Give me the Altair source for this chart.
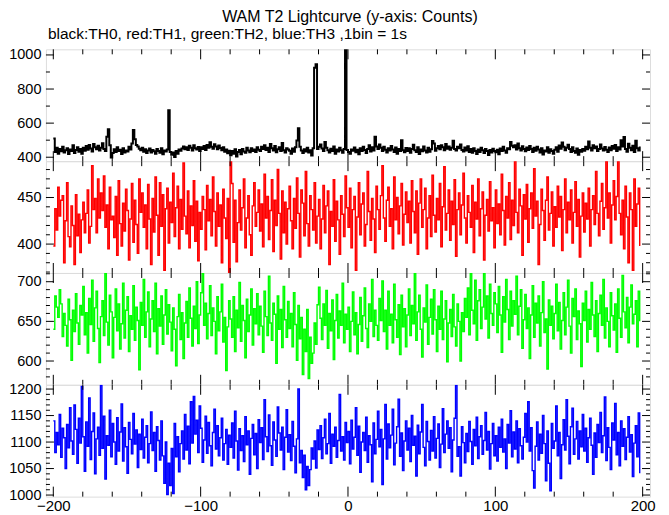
import altair as alt
import pandas as pd

X0 = -200  # first bin time (1 bin = 1 s)

th0 = [
    510, 430, 455, 420, 448, 435, 462, 428, 441, 452, 419, 446, 437, 470, 425, 443, 458, 432, 449, 421,
    456, 438, 466, 444, 472, 451, 433, 478, 459, 447, 468, 440, 455, 482, 449, 436, 520, 564, 470, 398,
    425, 447, 431, 458, 436, 444, 419, 452, 428, 440, 433, 461, 445, 480, 560, 505, 472, 463, 450, 441,
    456, 432, 447, 425, 439, 451, 428, 443, 435, 420, 448, 437, 426, 452, 418, 440, 433, 445, 676, 430,
    415, 428, 402, 436, 421, 445, 438, 451, 463, 447, 459, 442, 468, 455, 440, 471, 452, 446, 460, 437,
    458, 449, 466, 443, 472, 455, 488, 461, 450, 476, 463, 447, 469, 454, 441, 458, 432, 445, 424, 438,
    412, 436, 420, 447, 405, 431, 442, 418, 449, 433, 426, 455, 440, 429, 452, 437, 446, 431, 458, 444,
    437, 462, 448, 470, 443, 455, 431, 478, 452, 440, 466, 429, 447, 459, 436, 484, 441, 428, 453, 446,
    438, 420, 451, 432, 459, 498, 570, 462, 440, 425, 447, 433, 456, 428, 441, 410, 452, 925, 945, 448,
    462, 475, 451, 436, 489, 455, 441, 428, 450, 437, 463, 420, 446, 433, 455, 441, 427, 449, 1100, 443,
    431, 420, 446, 438, 457, 429, 444, 418, 452, 436, 461, 442, 425, 449, 471, 433, 458, 440, 520, 463,
    448, 475, 456, 437, 461, 444, 428, 453, 439, 466, 445, 431, 457, 420, 448, 436, 500, 441, 429, 454,
    437, 452, 426, 448, 473, 441, 430, 458, 419, 446, 435, 463, 440, 428, 455, 432, 447, 495, 480, 438,
    452, 466, 447, 470, 459, 441, 478, 450, 463, 444, 456, 497, 448, 439, 461, 452, 475, 443, 434, 457,
    440, 465, 431, 448, 426, 452, 437, 419, 446, 430, 455, 441, 425, 449, 436, 413, 442, 428, 450, 437,
    429, 444, 418, 451, 436, 462, 440, 427, 453, 447, 490, 468, 458, 471, 446, 480, 452, 439, 465, 448,
    435, 457, 442, 466, 449, 431, 455, 438, 461, 445, 428, 452, 416, 440, 433, 458, 426, 447, 437, 421,
    444, 458, 432, 469, 450, 487, 462, 441, 455, 473, 448, 430, 459, 437, 426, 451, 415, 443, 432, 449,
    438, 461, 447, 492, 455, 440, 470, 452, 463, 436, 448, 475, 451, 439, 460, 444, 430, 457, 441, 466,
    450, 472, 437, 459, 446, 500, 463, 518, 448, 432, 479, 455, 441, 468, 431, 497, 452, 440, 463,
]

th1 = [
    398, 438, 415, 461, 430, 447, 452, 380, 425, 466, 408, 397, 441, 420, 378, 453, 409, 432, 391, 426,
    445, 412, 433, 458, 401, 419, 484, 437, 449, 412, 470, 428, 455, 436, 473, 418, 442, 395, 461, 426,
    430, 407, 451, 388, 468, 422, 398, 444, 414, 459, 436, 383, 427, 465, 402, 447, 421, 390, 470, 434,
    455, 418, 442, 395, 464, 427, 378, 449, 413, 472, 431, 388, 466, 419, 453, 372, 438, 460, 401, 445,
    423, 476, 408, 439, 462, 395, 448, 416, 487, 430, 411, 457, 396, 441, 420, 468, 403, 446, 382, 434,
    416, 451, 437, 394, 463, 425, 448, 409, 472, 435, 398, 455, 419, 442, 380, 459, 428, 406, 449, 367,
    489, 465, 402, 447, 381, 423, 458, 415, 439, 470, 396, 428, 452, 410, 388, 441, 466, 419, 434, 458,
    414, 443, 397, 475, 428, 451, 405, 436, 469, 392, 447, 420, 480, 433, 384, 457, 412, 445, 400, 438,
    462, 425, 395, 449, 417, 471, 433, 386, 458, 444, 409, 478, 422, 398, 452, 437, 415, 466, 401, 430,
    448, 395, 427, 463, 412, 441, 457, 378, 435, 419, 469, 403, 446, 426, 389, 452, 432, 408, 473, 439,
    418, 460, 396, 437, 451, 372, 429, 466, 410, 443, 455, 398, 421, 478, 435, 404, 449, 427, 391, 462,
    437, 416, 452, 484, 428, 403, 447, 461, 419, 438, 395, 472, 426, 450, 411, 441, 465, 399, 432, 456,
    423, 446, 401, 468, 435, 412, 457, 389, 444, 470, 418, 437, 460, 395, 428, 452, 408, 474, 431, 413,
    449, 426, 465, 397, 440, 483, 415, 433, 458, 404, 446, 421, 469, 387, 437, 455, 410, 442, 476, 428,
    401, 452, 434, 418, 463, 391, 445, 427, 470, 409, 438, 456, 383, 431, 448, 414, 467, 425, 439, 396,
    458, 422, 443, 410, 475, 436, 399, 451, 428, 466, 405, 447, 420, 489, 434, 412, 459, 441, 388, 453,
    427, 464, 402, 438, 455, 417, 481, 430, 446, 378, 421, 459, 436, 404, 447, 472, 415, 433, 456, 398,
    440, 418, 462, 429, 451, 393, 437, 470, 412, 445, 426, 458, 401, 434, 467, 419, 448, 386, 430, 455,
    413, 444, 427, 460, 398, 437, 452, 421, 478, 433, 409, 446, 465, 416, 439, 489, 428, 455, 401, 442,
    468, 426, 451, 489, 433, 410, 447, 395, 462, 429, 380, 455, 437, 372, 470, 419, 443, 460, 398,
]

th2 = [
    640, 682, 668, 655, 690, 672, 631, 660, 645, 619, 678, 652, 601, 664, 637, 685, 648, 621, 670, 658,
    694, 633, 661, 610, 679, 646, 702, 625, 667, 688, 641, 598, 656, 676, 632, 711, 649, 620, 683, 662,
    604, 655, 691, 638, 672, 615, 647, 698, 629, 664, 681, 612, 657, 640, 695, 626, 668, 651, 589, 674,
    645, 703, 630, 662, 687, 618, 653, 676, 637, 698, 609, 666, 644, 682, 621, 658, 690, 634, 671, 649,
    613, 667, 640, 594, 656, 684, 627, 661, 603, 648, 675, 630, 692, 654, 619, 669, 641, 700, 622, 658,
    686, 711, 645, 673, 628, 660, 695, 632, 667, 650, 609, 681, 638, 662, 697, 624, 655, 588, 643, 676,
    653, 630, 681, 612, 664, 642, 699, 625, 670, 651, 604, 678, 637, 658, 691, 620, 666, 647, 685, 633,
    669, 644, 611, 688, 656, 632, 707, 648, 626, 673, 659, 597, 682, 640, 665, 617, 694, 652, 630, 675,
    641, 660, 618, 686, 646, 601, 670, 628, 655, 583, 640, 612, 665, 578, 630, 597, 610, 648, 621, 671,
    693, 654, 627, 672, 645, 689, 616, 660, 638, 677, 602, 651, 684, 629, 663, 645, 698, 623, 659, 640,
    668, 612, 650, 687, 633, 661, 609, 646, 680, 625, 657, 692, 641, 617, 672, 650, 703, 631, 664, 645,
    626, 679, 651, 701, 637, 664, 615, 688, 645, 659, 623, 697, 652, 630, 671, 608, 683, 643, 666, 618,
    658, 691, 632, 670, 647, 711, 626, 662, 683, 640, 605, 667, 649, 696, 621, 655, 678, 634, 690, 652,
    612, 669, 640, 688, 627, 653, 676, 599, 648, 665, 631, 684, 643, 619, 672, 650, 600, 661, 637, 679,
    655, 692, 633, 711, 664, 647, 702, 626, 676, 690, 641, 668, 711, 653, 682, 629, 697, 660, 645, 686,
    672, 636, 694, 658, 611, 681, 649, 703, 665, 627, 688, 644, 676, 659, 707, 633, 669, 690, 616, 652,
    684, 641, 667, 603, 658, 695, 630, 673, 648, 682, 619, 661, 700, 636, 653, 590, 677, 645, 669, 628,
    660, 697, 638, 674, 615, 651, 686, 633, 668, 702, 644, 610, 679, 656, 691, 627, 663, 647, 593, 673,
    651, 688, 624, 665, 640, 699, 658, 631, 676, 612, 660, 683, 645, 703, 629, 667, 650, 618, 686, 657,
    639, 672, 611, 691, 654, 630, 708, 662, 642, 680, 623, 668, 696, 647, 659, 676, 618, 688, 650,
]

th3 = [
    1140, 1080, 1118, 1095, 1152, 1071, 1126, 1108, 1050, 1133, 1089, 1165, 1102, 1077, 1170, 1124, 1060, 1145, 1098, 1205,
    1110, 1045, 1138, 1092, 1183, 1067, 1120, 1155, 1040, 1106, 1128, 1075, 1207, 1088, 1149, 1030, 1112, 1094, 1160, 1072,
    1135, 1100, 1058, 1146, 1083, 1119, 1172, 1064, 1127, 1091, 1041, 1137, 1105, 1078, 1154, 1096, 1123, 1052, 1115, 1086,
    1143, 1070, 1109, 1131, 1061, 1097, 1157, 1084, 1118, 1045, 1129, 1103, 1066, 1140, 1074, 1022, 1100, 1001, 1060, 1018,
    1088, 1003, 1135, 1072, 1110, 1044, 1097, 1121, 1068, 1152, 1085, 1130, 1059, 1176, 1098, 1186, 1115, 1141, 1080, 1168,
    1126, 1062, 1104, 1149, 1079, 1137, 1093, 1055, 1118, 1162, 1087, 1131, 1074, 1108, 1145, 1066, 1097, 1124, 1058, 1113,
    1090, 1136, 1070, 1158, 1102, 1047, 1125, 1084, 1112, 1063, 1148, 1095, 1121, 1039, 1107, 1133, 1076, 1116, 1050, 1142,
    1099, 1127, 1067, 1180, 1110, 1082, 1151, 1093, 1056, 1138, 1104, 1073, 1166, 1117, 1085, 1128, 1048, 1109, 1161, 1081,
    1114, 1065, 1139, 1092, 1042, 1106, 1200, 1061, 1084, 1033, 1075, 1010, 1054, 1018, 1048, 1089, 1068, 1102, 1051, 1123,
    1086, 1131, 1069, 1108, 1143, 1078, 1097, 1154, 1060, 1115, 1092, 1128, 1071, 1103, 1190, 1083, 1110, 1066, 1137, 1099,
    1120, 1059, 1141, 1087, 1109, 1165, 1075, 1130, 1043, 1100, 1118, 1084, 1147, 1062, 1112, 1095, 1025, 1136, 1078, 1105,
    1158, 1091, 1124, 1020, 1106, 1171, 1068, 1134, 1089, 1113, 1162, 1057, 1098, 1129, 1181, 1073, 1117, 1046, 1102, 1140,
    1085, 1126, 1063, 1150, 1094, 1111, 1036, 1132, 1078, 1119, 1171, 1090, 1055, 1139, 1101, 1066, 1122, 1083, 1148, 1070,
    1107, 1134, 1052, 1096, 1163, 1080, 1115, 1140, 1088, 1127, 1044, 1104, 1145, 1207, 1073, 1091, 1036, 1129, 1099, 1061,
    1116, 1082, 1139, 1101, 1058, 1124, 1093, 1147, 1069, 1110, 1131, 1077, 1103, 1156, 1085, 1120, 1049, 1097, 1135, 1074,
    1112, 1064, 1128, 1090, 1143, 1081, 1106, 1050, 1133, 1098, 1159, 1072, 1119, 1087, 1140, 1061, 1125, 1093, 1068, 1109,
    1154, 1100, 1176, 1083, 1127, 1046, 1013, 1092, 1138, 1066, 1115, 1079, 1150, 1097, 1027, 1121, 1060, 1008, 1135, 1088,
    1102, 1168, 1074, 1118, 1031, 1095, 1142, 1085, 1180, 1111, 1059, 1129, 1164, 1077, 1106, 1139, 1068, 1121, 1091, 1152,
    1083, 1126, 1062, 1108, 1145, 1094, 1039, 1117, 1071, 1133, 1099, 1156, 1080, 1112, 1185, 1065, 1127, 1090, 1048, 1136,
    1104, 1173, 1076, 1118, 1055, 1140, 1092, 1125, 1067, 1109, 1148, 1081, 1114, 1035, 1098, 1131, 1072, 1155, 1041,
]

x_labels = [-200, -100, 0, 100, 200]
x_minor = [v for v in range(-200, 201, 20) if v not in x_labels]

panels = [
    dict(vals=th0, color="#000000", dom=[377, 1033], labels=[400, 600, 800, 1000], minor=[500, 700, 900], sw=2.0),
    dict(vals=th1, color="#ff0000", dom=[369, 489], labels=[400, 450], minor=[v for v in range(370, 490, 10) if v not in (400, 450)], sw=1.4),
    dict(vals=th2, color="#00ff00", dom=[570, 711], labels=[600, 650, 700], minor=[v for v in range(580, 711, 10) if v not in (600, 650, 700)], sw=1.4),
    dict(vals=th3, color="#0000ff", dom=[997, 1208], labels=[1000, 1050, 1100, 1150, 1200], minor=[v for v in range(1000, 1208, 10) if v not in (1000, 1050, 1100, 1150, 1200)], sw=1.4),
]

W, H = 605, 112
FONT = "Liberation Sans"
MAJ, MIN = 8, 4


def make_panel(p, show_x, title=None):
    xs = alt.Scale(domain=[-205, 205], nice=False, zero=False)
    ys = alt.Scale(domain=p["dom"], nice=False, zero=False)
    if show_x:
        xaxis = alt.Axis(values=x_labels, ticks=False, domain=False, grid=False, labelFontSize=15,
                         labelPadding=2, title=None, format="d", labelFont=FONT, labelColor="black")
    else:
        xaxis = None
    yaxis = alt.Axis(values=p["labels"], ticks=False, domain=False, grid=False, labelFontSize=14.5,
                     labelPadding=5, title=None, minExtent=37, maxExtent=37, labelFont=FONT,
                     labelColor="black", format="d")
    df = pd.DataFrame({"t": [X0 + i for i in range(len(p["vals"]))], "v": p["vals"]})
    line = alt.Chart(df).mark_line(interpolate="step-after", color=p["color"], strokeWidth=p["sw"], clip=True).encode(
        x=alt.X("t:Q", scale=xs, axis=xaxis), y=alt.Y("v:Q", scale=ys, axis=yaxis))

    layers = [line]
    ymaj = pd.DataFrame({"v": p["labels"]})
    ymin = pd.DataFrame({"v": p["minor"]})
    xmaj = pd.DataFrame({"t": x_labels})
    xmin = pd.DataFrame({"t": x_minor})
    for d, ln in ((ymaj, MAJ), (ymin, MIN)):
        layers.append(alt.Chart(d).mark_rule(color="black", strokeWidth=1).encode(
            y=alt.Y("v:Q", scale=ys, axis=yaxis), x=alt.value(0), x2=alt.value(ln)))
        layers.append(alt.Chart(d).mark_rule(color="black", strokeWidth=1).encode(
            y=alt.Y("v:Q", scale=ys, axis=yaxis), x=alt.value(W - ln), x2=alt.value(W)))
    for d, ln in ((xmaj, MAJ + 2), (xmin, MIN + 1)):
        layers.append(alt.Chart(d).mark_rule(color="black", strokeWidth=1).encode(
            x=alt.X("t:Q", scale=xs, axis=xaxis), y=alt.value(0), y2=alt.value(ln)))
        layers.append(alt.Chart(d).mark_rule(color="black", strokeWidth=1).encode(
            x=alt.X("t:Q", scale=xs, axis=xaxis), y=alt.value(H - ln), y2=alt.value(H)))
    ch = alt.layer(*layers).properties(width=W, height=H)
    if title is not None:
        ch = ch.properties(title=title)
    return ch


charts = []
for i, p in enumerate(panels):
    t = None
    if i == 0:
        t = alt.TitleParams("black:TH0, red:TH1, green:TH2, blue:TH3 ,1bin = 1s", anchor="start",
                            frame="group", fontSize=15.5, fontWeight="normal", font=FONT, color="black",
                            offset=4, dx=2)
    charts.append(make_panel(p, i == 3, t))

chart = alt.vconcat(*charts, spacing=0, bounds="flush").properties(
    title=alt.TitleParams("WAM T2 Lightcurve (y-axis: Counts)", anchor="middle", fontSize=16,
                          fontWeight="normal", font=FONT, color="black", offset=2, dx=18),
    padding={"left": 0, "top": 0, "right": 5, "bottom": 0},
).configure_view(stroke="black", strokeWidth=2).configure(background="white")

chart.save("out.html", embed_options={"renderer": "svg", "actions": False})
